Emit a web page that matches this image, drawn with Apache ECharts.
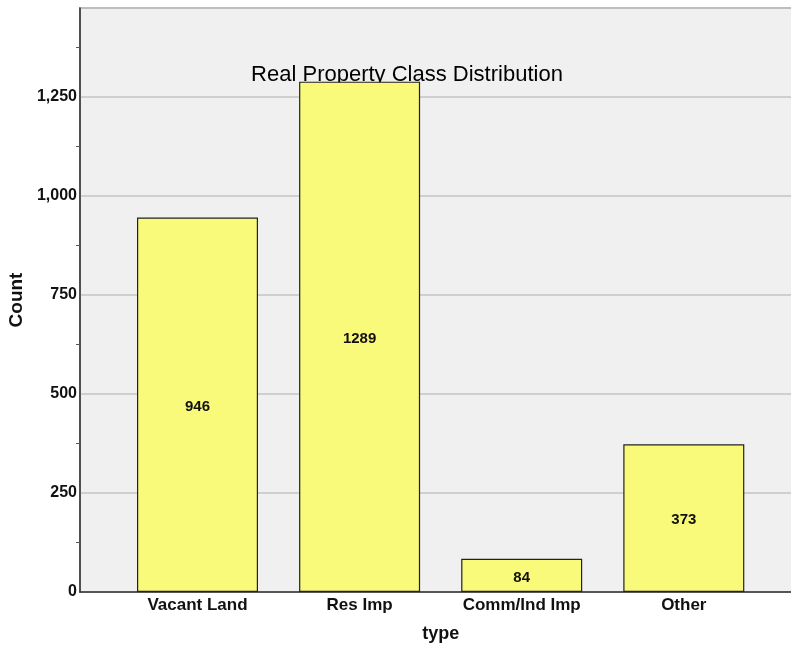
<!DOCTYPE html>
<html>
<head>
<meta charset="utf-8">
<script src="https://cdn.jsdelivr.net/npm/echarts@6/dist/echarts.min.js"></script>
<style>html,body{margin:0;padding:0;background:#fff;}#c{width:791px;height:645px;}</style>
</head>
<body>
<div id="c"></div>
<script>
const categories = ['Vacant Land', 'Res Imp', 'Comm/Ind Imp', 'Other'];
const counts = [946, 1289, 84, 373];
const yTicks = [0, 250, 500, 750, 1000, 1250];

const chart = echarts.init(document.getElementById('c'));
const FONT = '"Liberation Sans", Arial, sans-serif';
const yMax = 1475;
chart.setOption({
  animation: false,
  title: {
    text: 'Real Property Class Distribution',
    left: 402, top: 59, textAlign: 'center', z: 1,
    textStyle: { fontFamily: FONT, fontSize: 22, fontWeight: 'normal', color: '#000' }
  },
  grid: [
    { left: 80, right: -20, top: 8, bottom: 53, show: true, backgroundColor: '#f0f0f0', borderColor: '#a8a8a8', borderWidth: 2, z: 0, containLabel: false, outerBoundsMode: 'none' },
    { left: 116.45, right: 26.15, top: 8, bottom: 53, z: 2, containLabel: false, outerBoundsMode: 'none' }
  ],
  xAxis: [
    { gridIndex: 0, type: 'value', min: 0, max: 1, axisLine: { show: true, onZero: false, lineStyle: { color: '#333', width: 1.5 } },
      axisTick: { show: false }, axisLabel: { show: false }, splitLine: { show: false } },
    { gridIndex: 1, type: 'category', data: categories,
      axisLine: { show: false }, axisTick: { show: false },
      axisLabel: { fontFamily: FONT, fontSize: 17, fontWeight: 'bold', color: '#111', margin: 5 },
      name: 'type', nameLocation: 'middle', nameGap: 33,
      nameTextStyle: { fontFamily: FONT, fontSize: 18, fontWeight: 'bold', color: '#111' } }
  ],
  yAxis: [
    { gridIndex: 0, type: 'value', min: 0, max: yMax, interval: 250,
      axisLine: { show: true, lineStyle: { color: '#333', width: 1.5 } },
      axisTick: { show: false },
      minorTick: { show: true, splitNumber: 2, length: 4, lineStyle: { color: '#555' } },
      axisLabel: { fontFamily: FONT, fontSize: 16, fontWeight: 'bold', color: '#111', margin: 3,
        formatter: v => yTicks.indexOf(v) >= 0 ? v.toLocaleString('en-US') : '' },
      splitLine: { show: true, lineStyle: { color: '#c4c4c4', width: 1.5 } },
      name: 'Count', nameLocation: 'middle', nameGap: 52, nameRotate: 90,
      nameTextStyle: { fontFamily: FONT, fontSize: 19, fontWeight: 'bold', color: '#111' } },
    { gridIndex: 1, type: 'value', min: 0, max: yMax, show: false, splitLine: { show: false } }
  ],
  series: [{
    type: 'bar', xAxisIndex: 1, yAxisIndex: 1, data: counts, barWidth: 121, z: 3,
    itemStyle: { color: '#f9f97a', borderColor: '#222', borderWidth: 1.2 },
    label: { show: true, position: 'inside', fontFamily: FONT, fontSize: 15, fontWeight: 'bold', color: '#111', offset: [0, 2] }
  }]
});
</script>
</body>
</html>
